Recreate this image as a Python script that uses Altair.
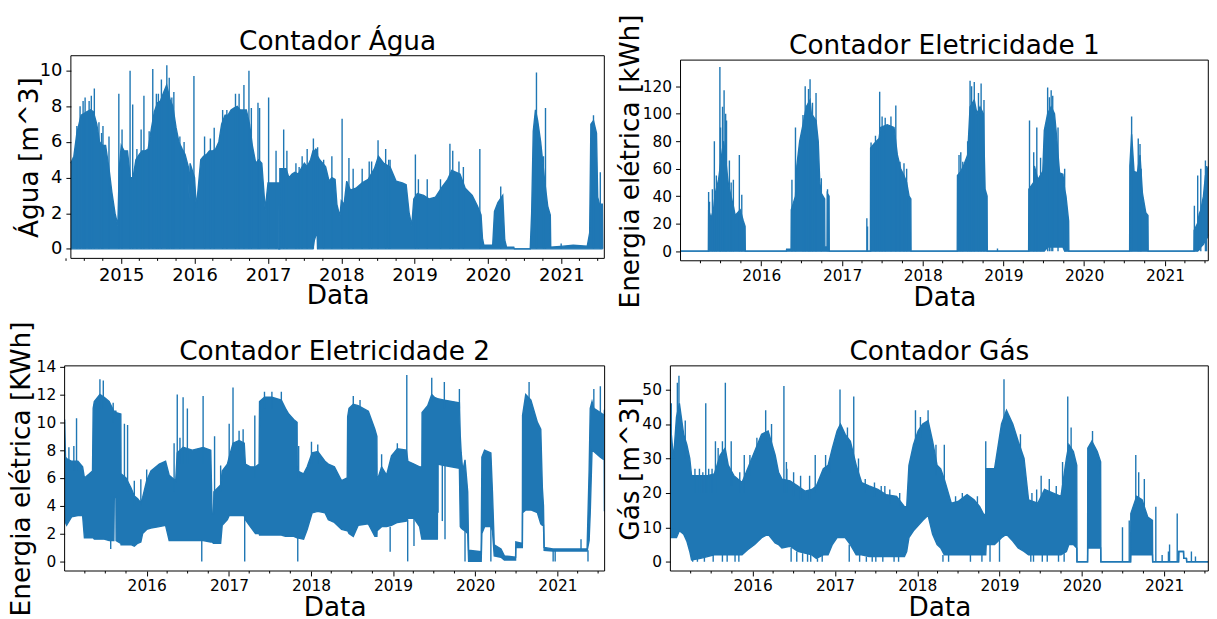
import altair as alt
import pandas as pd

BLUE = "#1f77b4"
FONT = "DejaVu Sans"
BIG = 26.5

# ---------------- Contador Água : (date, low, high) envelope ----------------
AGUA_BODY = [
    ("2014-04-25", 0, 4.8), ("2014-05-10", 0, 5.2), ("2014-05-25", 0, 6.5), ("2014-06-15", 0, 7.5),
    ("2014-07-01", 0, 7.6), ("2014-07-15", 0, 7.7), ("2014-08-01", 0, 7.8), ("2014-08-15", 0, 7.7),
    ("2014-09-01", 0, 7.0), ("2014-09-15", 0, 6.0), ("2014-10-01", 0, 5.8), ("2014-10-15", 0, 5.8),
    ("2014-11-01", 0, 4.5), ("2014-11-15", 0, 3.2), ("2014-12-01", 0, 2.0), ("2014-12-15", 0, 1.3),
    ("2014-12-22", 0, 4.5), ("2015-01-01", 0, 5.8), ("2015-01-15", 0, 5.5), ("2015-02-01", 0, 5.5),
    ("2015-02-15", 0, 4.0), ("2015-03-01", 0, 4.0), ("2015-03-15", 0, 5.0), ("2015-04-01", 0, 5.3),
    ("2015-04-15", 0, 5.5), ("2015-05-01", 0, 5.5), ("2015-05-15", 0, 5.6), ("2015-06-01", 0, 6.8),
    ("2015-06-15", 0, 7.7), ("2015-07-01", 0, 8.2), ("2015-07-15", 0, 8.3), ("2015-08-01", 0, 8.8),
    ("2015-08-15", 0, 9.2), ("2015-09-01", 0, 8.4), ("2015-09-15", 0, 8.0), ("2015-10-01", 0, 6.8),
    ("2015-10-15", 0, 6.0), ("2015-11-01", 0, 5.6), ("2015-11-15", 0, 5.3), ("2015-12-01", 0, 4.6),
    ("2015-12-05", 0, 2.8), ("2015-12-10", 0, 4.8), ("2016-01-01", 0, 4.0), ("2016-01-10", 0, 2.3),
    ("2016-01-20", 0, 3.5), ("2016-02-01", 0, 5.0), ("2016-02-15", 0, 5.2), ("2016-03-01", 0, 5.3),
    ("2016-03-15", 0, 5.5), ("2016-04-01", 0, 5.5), ("2016-04-15", 0, 5.6), ("2016-05-01", 0, 6.0),
    ("2016-05-15", 0, 7.0), ("2016-06-01", 0, 7.5), ("2016-06-15", 0, 7.5), ("2016-07-01", 0, 7.8),
    ("2016-07-15", 0, 7.9), ("2016-08-01", 0, 8.0), ("2016-08-15", 0, 7.8), ("2016-09-01", 0, 7.8),
    ("2016-09-15", 0, 7.8), ("2016-10-01", 0, 7.0), ("2016-10-15", 0, 5.8), ("2016-11-01", 0, 4.8),
    ("2016-11-15", 0, 5.0), ("2016-12-01", 0, 4.8), ("2016-12-18", 0, 2.2), ("2017-01-01", 0, 3.7),
    ("2017-02-23", 0, 3.7), ("2017-02-24", 0, 0), ("2017-02-28", 0, 0), ("2017-03-01", 0, 4.5),
    ("2017-04-01", 0, 4.5), ("2017-04-15", 0, 4.0), ("2017-05-01", 0, 4.2), ("2017-05-15", 0, 4.3),
    ("2017-06-01", 0, 4.2), ("2017-06-15", 0, 4.5), ("2017-07-01", 0, 4.8), ("2017-07-15", 0, 4.6),
    ("2017-08-01", 0, 5.0), ("2017-08-13", 0, 5.5), ("2017-08-20", 0.5, 5.5), ("2017-08-27", 0.75, 5.6),
    ("2017-09-03", 0.8, 5.5), ("2017-09-05", 0, 5.2), ("2017-09-15", 0, 5.0), ("2017-10-01", 0, 4.8),
    ("2017-10-15", 0, 4.6), ("2017-11-01", 0, 3.8), ("2017-11-15", 0, 4.0), ("2017-12-01", 0, 3.9),
    ("2017-12-10", 0, 2.5), ("2017-12-25", 0, 1.8), ("2018-01-01", 0, 2.7), ("2018-01-15", 0, 2.5),
    ("2018-01-28", 0, 3.8), ("2018-02-15", 0, 3.3), ("2018-03-15", 0, 3.4), ("2018-04-15", 0, 3.7),
    ("2018-05-15", 0, 3.9), ("2018-06-15", 0, 4.5), ("2018-07-05", 0, 5.2), ("2018-08-01", 0, 4.8),
    ("2018-09-01", 0, 4.6), ("2018-10-01", 0, 3.8), ("2018-11-01", 0, 3.7), ("2018-11-20", 0, 3.6),
    ("2018-12-05", 0, 2.0), ("2018-12-18", 0, 1.3), ("2018-12-28", 0, 2.8), ("2019-01-15", 0, 3.1),
    ("2019-02-15", 0, 3.0), ("2019-03-15", 0, 2.8), ("2019-04-15", 0, 2.9), ("2019-05-20", 0, 3.5),
    ("2019-06-15", 0, 3.9), ("2019-07-05", 0, 4.4), ("2019-08-15", 0, 4.2), ("2019-09-10", 0, 3.4),
    ("2019-10-15", 0, 3.0), ("2019-11-10", 0, 2.4), ("2019-11-28", 0, 1.9), ("2019-12-05", 0, 0.6),
    ("2019-12-12", 0, 0.2), ("2020-01-25", 0, 0.2), ("2020-02-03", 0, 2.1), ("2020-02-20", 0, 2.6),
    ("2020-03-15", 0, 3.0), ("2020-03-25", 0, 0.5), ("2020-04-03", 0, 0.1), ("2020-05-09", 0, 0.1),
    ("2020-05-12", 0, 0), ("2020-07-30", 0, 0), ("2020-08-06", 0, 2.0), ("2020-08-14", 0, 6.6),
    ("2020-08-25", 0, 7.8), ("2020-09-05", 0, 7.2), ("2020-09-20", 0, 6.0), ("2020-10-10", 0, 3.8),
    ("2020-10-25", 0, 2.4), ("2020-11-07", 0, 1.9), ("2020-11-09", 0, 0.1), ("2021-01-10", 0, 0.15),
    ("2021-03-01", 0, 0.2), ("2021-05-10", 0, 0.15), ("2021-05-22", 0, 0.9), ("2021-05-28", 0, 7.0),
    ("2021-06-10", 0, 7.2), ("2021-06-25", 0, 6.5), ("2021-07-01", 0, 2.9), ("2021-07-10", 0, 2.5),
    ("2021-07-24", 0, 2.5), ("2021-07-26", 0, 0),
]
# single peaks / dips: (date, from, to)
AGUA_RULES = [
    ("2014-05-25", 0, 6.9), ("2014-06-10", 0, 8.0), ("2014-07-05", 0, 8.5), ("2014-07-25", 0, 8.3),
    ("2014-08-05", 0, 8.6), ("2014-08-20", 0, 9.0), ("2014-09-12", 0, 7.1), ("2014-10-02", 0, 6.9),
    ("2014-11-01", 0, 6.3), ("2014-12-20", 0, 8.7), ("2015-01-05", 0, 6.7), ("2015-02-14", 0, 10.0),
    ("2015-02-27", 0, 8.1), ("2015-04-10", 0, 6.7), ("2015-04-24", 0, 8.6), ("2015-06-07", 0, 10.1),
    ("2015-06-25", 0, 8.7), ("2015-07-20", 0, 9.5), ("2015-08-16", 0, 10.3), ("2015-08-28", 0, 9.6),
    ("2015-09-10", 0, 8.5), ("2015-10-20", 0, 6.3), ("2015-12-29", 0, 9.7), ("2016-02-20", 0, 6.3),
    ("2016-03-20", 0, 6.2), ("2016-04-08", 0, 6.8), ("2016-05-20", 0, 7.8), ("2016-07-23", 0, 8.7),
    ("2016-09-03", 0, 9.2), ("2016-09-28", 0, 10.0), ("2016-11-12", 0, 8.2), ("2016-11-20", 0, 7.9),
    ("2017-01-04", 0, 8.5), ("2017-02-10", 0, 5.5), ("2017-03-20", 0, 6.7), ("2017-04-05", 0, 5.5),
    ("2017-05-20", 0, 4.8), ("2017-06-20", 0, 5.2), ("2017-07-15", 0, 5.6), ("2017-08-15", 0, 6.2),
    ("2017-09-05", 0, 5.7), ("2017-11-15", 0, 5.2), ("2018-01-05", 0, 7.3), ("2018-02-08", 0, 5.1),
    ("2018-03-01", 0, 4.5), ("2018-04-15", 0, 4.5), ("2018-05-20", 0, 4.9), ("2018-07-03", 0, 6.1),
    ("2018-08-10", 0, 5.6), ("2018-09-01", 0, 5.0), ("2019-01-05", 0, 5.3), ("2019-01-20", 0, 3.9),
    ("2019-03-05", 0, 3.9), ("2019-06-26", 0, 5.9), ("2019-07-10", 0, 5.5), ("2019-08-10", 0, 4.9),
    ("2019-11-22", 0, 5.6), ("2020-03-05", 0, 3.5), ("2020-08-30", 0, 9.9), ("2020-10-04", 0, 5.2),
    ("2020-10-14", 0, 7.9), ("2020-12-31", 0, 0.3), ("2021-06-10", 0, 7.5), ("2021-07-14", 0, 4.3),
    ("2014-06-25", 0, 8.3), ("2014-09-25", 0, 6.5), ("2015-03-20", 0, 5.6), ("2015-05-20", 0, 6.6),
    ("2015-07-05", 0, 8.7), ("2015-09-20", 0, 8.8), ("2015-11-10", 0, 6.0), ("2016-06-10", 0, 7.8),
    ("2016-08-10", 0, 8.7), ("2016-10-10", 0, 7.9), ("2017-06-05", 0, 4.6), ("2017-10-05", 0, 5.0),
    ("2018-06-01", 0, 4.9), ("2018-08-25", 0, 5.0), ("2019-05-10", 0, 3.9), ("2019-09-01", 0, 4.6),
]

# ---------------- Contador Eletricidade 1 ----------------
EL1_BODY = [
    ("2015-01-01", 0, 0), ("2015-05-07", 0, 0), ("2015-05-08", 0, 30), ("2015-05-19", 0, 24),
    ("2015-05-30", 0, 30), ("2015-06-07", 0, 42), ("2015-06-22", 0, 52), ("2015-07-06", 0, 70),
    ("2015-07-15", 0, 80), ("2015-07-21", 0, 72), ("2015-08-01", 0, 55), ("2015-08-06", 0, 48),
    ("2015-08-29", 0, 32), ("2015-09-05", 0, 26), ("2015-09-28", 0, 30), ("2015-10-12", 0, 22),
    ("2015-10-20", 0, 18), ("2015-10-21", 0, 0), ("2016-04-24", 0, 0), ("2016-04-25", 0, 1.5),
    ("2016-05-15", 0, 1.5), ("2016-05-16", 0, 30), ("2016-06-04", 0, 40), ("2016-06-10", 0, 62),
    ("2016-06-23", 0, 80), ("2016-07-08", 0, 92), ("2016-07-23", 0, 105), ("2016-08-09", 0, 110),
    ("2016-08-15", 0, 100), ("2016-09-05", 0, 95), ("2016-09-15", 0, 80), ("2016-09-22", 0, 50),
    ("2016-09-29", 0, 42), ("2016-10-14", 0, 38), ("2016-10-15", 0, 3), ("2016-10-25", 0, 3),
    ("2016-10-26", 0, 42), ("2016-11-03", 0, 40), ("2016-11-04", 0, 0), ("2017-05-09", 0, 0),
    ("2017-05-10", 0, 75), ("2017-05-25", 0, 78), ("2017-06-17", 0, 82), ("2017-06-24", 0, 90),
    ("2017-07-24", 0, 92), ("2017-08-24", 0, 90), ("2017-09-08", 0, 70), ("2017-09-23", 0, 60),
    ("2017-10-08", 0, 55), ("2017-10-20", 0, 50), ("2017-10-31", 0, 40), ("2017-11-08", 0, 38),
    ("2017-11-09", 0, 0), ("2018-06-06", 0, 0), ("2018-06-07", 0, 55), ("2018-06-22", 0, 58),
    ("2018-07-04", 0, 62), ("2018-07-23", 0, 70), ("2018-08-03", 0, 105), ("2018-08-22", 0, 110),
    ("2018-09-03", 0, 100), ("2018-09-17", 0, 105), ("2018-10-02", 0, 100), ("2018-10-10", 0, 45),
    ("2018-10-19", 0, 40), ("2018-10-20", 0, 0), ("2019-04-25", 0, 0), ("2019-04-26", 0, 45),
    ("2019-05-18", 0, 50), ("2019-05-21", 0, 62), ("2019-06-06", 0, 52), ("2019-06-28", 0, 58),
    ("2019-07-05", 0, 88), ("2019-07-20", 3, 100), ("2019-08-05", 3, 105), ("2019-08-20", 3, 100),
    ("2019-08-27", 3, 88), ("2019-09-12", 3, 57), ("2019-09-27", 3, 56), ("2019-10-05", 0, 45),
    ("2019-10-11", 0, 40), ("2019-10-23", 0, 22), ("2019-10-24", 0, 0), ("2020-07-25", 0, 0),
    ("2020-07-26", 0, 62), ("2020-08-03", 0, 85), ("2020-08-14", 0, 58), ("2020-08-29", 0, 57),
    ("2020-09-10", 0, 70), ("2020-09-21", 0, 42), ("2020-10-06", 0, 28), ("2020-10-16", 0, 26),
    ("2020-10-17", 0, 0), ("2021-05-12", 0, 0), ("2021-05-13", 0, 15), ("2021-05-28", 0, 20),
    ("2021-06-05", 1, 27), ("2021-06-12", 3, 30), ("2021-06-24", 5, 40), ("2021-07-03", 8, 55),
    ("2021-07-12", 10, 60), ("2021-07-18", 12, 62),
]
EL1_RULES = [
    ("2015-05-08", 0, 43), ("2015-05-12", 0, 36), ("2015-05-25", 0, 45), ("2015-06-03", 0, 80),
    ("2015-06-12", 0, 55), ("2015-06-28", 0, 134), ("2015-07-17", 0, 117), ("2015-07-24", 0, 100),
    ("2015-08-10", 0, 66), ("2015-08-28", 0, 52), ("2015-09-24", 0, 70), ("2015-10-05", 0, 41),
    ("2015-07-01", 0, 90), ("2015-07-10", 0, 105), ("2015-07-28", 0, 95), ("2015-08-18", 0, 50),
    ("2016-05-19", 0, 52), ("2016-06-04", 0, 90), ("2016-07-08", 0, 99), ("2016-07-18", 0, 120),
    ("2016-08-02", 0, 118), ("2016-08-09", 0, 125), ("2016-08-20", 0, 108), ("2016-09-05", 0, 115),
    ("2016-09-29", 0, 53), ("2016-10-27", 0, 45), ("2017-04-23", 0, 24), ("2017-04-26", 0, 18),
    ("2017-05-12", 0, 79), ("2017-06-01", 0, 84), ("2017-06-20", 0, 116), ("2017-07-01", 0, 98),
    ("2017-07-15", 0, 97), ("2017-08-10", 0, 98), ("2017-09-01", 0, 106), ("2017-09-20", 0, 65),
    ("2017-10-08", 0, 64), ("2017-10-20", 0, 60), ("2018-06-14", 0, 70), ("2018-06-22", 0, 72),
    ("2018-07-01", 0, 65), ("2018-07-23", 0, 80), ("2018-08-03", 0, 124), ("2018-08-10", 0, 120),
    ("2018-08-22", 0, 123), ("2018-09-10", 0, 115), ("2018-09-22", 0, 122), ("2018-10-05", 0, 110),
    ("2018-12-05", 0, 2), ("2019-04-29", 0, 95), ("2019-05-18", 0, 72), ("2019-06-01", 0, 90),
    ("2019-06-18", 0, 68), ("2019-07-20", 0, 119), ("2019-07-28", 0, 112), ("2019-08-05", 0, 117),
    ("2019-08-12", 0, 113), ("2019-09-05", 0, 90), ("2019-10-05", 0, 60), ("2020-08-03", 0, 98),
    ("2020-09-02", 0, 82), ("2020-09-10", 0, 78), ("2020-09-15", 0, 60), ("2021-05-14", 0, 33),
    ("2021-05-29", 0, 55), ("2021-06-12", 0, 60), ("2021-07-03", 0, 66), ("2021-07-08", 0, 62),
]

# ---------------- Contador Eletricidade 2 ----------------
EL2_BODY = [
    ("2015-01-01", 3.0, 10.2), ("2015-01-05", 2.8, 7.5), ("2015-01-10", 2.6, 7.4), ("2015-02-01", 3.2, 7.2),
    ("2015-03-01", 3.3, 7.2), ("2015-03-22", 3.3, 6.8), ("2015-03-30", 1.7, 6.0), ("2015-04-21", 1.7, 6.3),
    ("2015-05-05", 1.7, 6.5), ("2015-05-08", 1.7, 11.0), ("2015-05-13", 1.6, 11.5), ("2015-06-07", 1.6, 12.0),
    ("2015-06-26", 1.6, 11.8), ("2015-07-18", 1.5, 11.5), ("2015-08-08", 1.5, 10.8), ("2015-08-10", 4.6, 10.8),
    ("2015-08-17", 4.6, 10.8), ("2015-08-18", 1.5, 10.7), ("2015-09-08", 1.3, 10.6), ("2015-09-09", 1.2, 6.3),
    ("2015-10-01", 1.2, 6.0), ("2015-10-23", 1.2, 5.3), ("2015-11-07", 1.1, 4.7), ("2015-11-22", 1.3, 4.5),
    ("2015-12-06", 1.4, 4.2), ("2015-12-14", 2.0, 4.6), ("2016-01-01", 2.3, 5.8), ("2016-01-20", 2.4, 6.5),
    ("2016-02-26", 2.5, 7.0), ("2016-03-25", 2.6, 7.2), ("2016-04-10", 1.5, 6.2), ("2016-05-09", 1.5, 5.8),
    ("2016-05-16", 1.5, 7.8), ("2016-06-11", 1.5, 8.2), ("2016-07-22", 1.5, 8.0), ("2016-09-08", 1.5, 8.2),
    ("2016-10-12", 1.4, 8.0), ("2016-10-18", 1.4, 3.4), ("2016-10-24", 1.3, 3.4), ("2016-10-26", 1.3, 5.0),
    ("2016-11-25", 1.3, 5.5), ("2016-12-02", 2.6, 6.5), ("2016-12-25", 3.0, 7.0), ("2017-01-02", 3.3, 7.5),
    ("2017-01-19", 3.3, 8.5), ("2017-02-15", 3.3, 8.7), ("2017-03-10", 3.3, 8.5), ("2017-03-15", 3.0, 7.0),
    ("2017-04-06", 2.5, 6.8), ("2017-04-29", 2.0, 6.8), ("2017-05-15", 2.0, 7.0), ("2017-05-17", 1.9, 11.5),
    ("2017-06-08", 1.9, 11.8), ("2017-07-11", 1.9, 11.8), ("2017-08-22", 1.9, 11.6), ("2017-09-09", 1.8, 11.0),
    ("2017-09-24", 1.8, 10.6), ("2017-10-16", 1.8, 10.2), ("2017-10-31", 1.7, 10.0), ("2017-11-01", 1.7, 6.5),
    ("2017-11-29", 1.6, 6.3), ("2017-12-15", 2.3, 6.8), ("2018-01-06", 3.5, 7.8), ("2018-01-31", 3.6, 7.9),
    ("2018-03-04", 3.5, 7.2), ("2018-03-19", 3.0, 7.0), ("2018-04-15", 2.8, 6.8), ("2018-05-17", 2.3, 5.8),
    ("2018-06-11", 2.2, 6.0), ("2018-06-13", 2.2, 10.4), ("2018-06-19", 2.0, 11.0), ("2018-07-08", 1.8, 11.3),
    ("2018-07-30", 2.6, 11.2), ("2018-09-13", 2.7, 10.8), ("2018-10-12", 1.8, 9.5), ("2018-10-21", 1.8, 9.0),
    ("2018-10-22", 2.2, 5.8), ("2018-11-11", 2.5, 6.8), ("2018-12-03", 2.5, 6.2), ("2018-12-25", 2.6, 7.6),
    ("2019-01-20", 2.8, 8.1), ("2019-03-01", 2.9, 8.0), ("2019-03-08", 3.1, 7.2), ("2019-04-04", 3.1, 7.0),
    ("2019-04-29", 2.5, 6.8), ("2019-05-09", 1.6, 6.8), ("2019-05-10", 1.6, 10.7), ("2019-06-04", 1.6, 11.2),
    ("2019-06-22", 1.6, 12.0), ("2019-07-04", 1.6, 11.8), ("2019-07-17", 1.6, 11.7), ("2019-07-18", 7.0, 11.7),
    ("2019-08-17", 6.9, 11.6), ("2019-10-23", 6.7, 11.4), ("2019-10-27", 2.5, 9.0), ("2019-10-31", 2.4, 7.8),
    ("2019-11-07", 2.3, 6.5), ("2019-11-17", 2.2, 7.3), ("2019-11-29", 2.0, 5.0), ("2019-12-03", 0.0, 0.8),
    ("2020-01-28", 0.0, 0.7), ("2020-01-31", 2.0, 7.5), ("2020-02-12", 2.5, 8.0), ("2020-03-11", 2.5, 7.8),
    ("2020-03-18", 2.2, 5.0), ("2020-03-26", 0.4, 1.2), ("2020-04-25", 0.3, 0.9), ("2020-05-10", 0.1, 0.4),
    ("2020-06-29", 0.1, 0.3), ("2020-06-30", 1.0, 1.4), ("2020-07-29", 1.0, 1.3), ("2020-07-30", 3.5, 10.5),
    ("2020-08-13", 3.7, 12.0), ("2020-09-05", 3.7, 11.6), ("2020-10-04", 3.5, 10.0), ("2020-10-19", 2.7, 9.5),
    ("2020-10-26", 2.6, 5.3), ("2020-10-31", 2.6, 4.0), ("2020-11-03", 0.8, 1.0), ("2020-12-12", 0.75, 0.9),
    ("2021-05-13", 0.75, 0.9), ("2021-05-22", 1.5, 6.5), ("2021-05-27", 3.5, 11.0), ("2021-06-04", 8.0, 11.5),
    ("2021-06-12", 7.9, 11.0), ("2021-07-11", 7.5, 10.7), ("2021-07-28", 7.3, 10.5), ("2021-07-29", 3.6, 10.9),
]
EL2_RULES = [
    ("2015-01-20", 6.5, 8.2), ("2015-02-11", 6.5, 8.3), ("2015-02-23", 6.5, 10.3), ("2015-06-07", 11, 13.1),
    ("2015-06-22", 11, 13.0), ("2015-08-05", 10, 11.4), ("2015-09-24", 5.5, 9.9), ("2015-10-08", 5, 9.8),
    ("2015-11-07", 4, 5.8), ("2015-12-06", 4, 5.9), ("2016-01-01", 5, 6.6), ("2016-05-02", 5, 8.5),
    ("2016-05-16", 7, 12.0), ("2016-05-28", 7, 8.9), ("2016-06-11", 7, 11.8), ("2016-06-30", 7, 11.0),
    ("2016-09-08", 7, 11.9), ("2016-10-29", 4.5, 9.0), ("2016-11-25", 5, 6.9), ("2017-01-02", 7, 9.9),
    ("2017-01-19", 8, 12.5), ("2017-02-15", 8, 9.4), ("2017-03-05", 8, 9.5), ("2017-04-26", 6, 10.5),
    ("2017-06-08", 11, 12.2), ("2017-07-11", 11, 12.2), ("2017-08-22", 11, 12.2), ("2017-11-07", 6, 8.3),
    ("2018-01-03", 7, 8.6), ("2018-01-31", 7, 8.4), ("2018-07-08", 11, 11.9), ("2018-08-07", 11, 11.6),
    ("2018-11-11", 6, 7.7), ("2019-01-20", 7.5, 8.5), ("2019-03-03", 7.5, 13.4), ("2019-06-22", 11.5, 13.2),
    ("2019-08-17", 11, 12.9), ("2019-10-23", 11, 12.4), ("2020-08-28", 11.5, 12.9), ("2021-04-16", 0.8, 1.6),
    ("2021-06-12", 11, 12.4), ("2021-07-11", 10.5, 12.6),
    ("2015-07-25", 0.9, 1.6), ("2016-09-02", 0.0, 1.5), ("2017-03-12", 0.0, 3.3), ("2017-11-03", 0.0, 1.7),
    ("2018-12-19", 0.7, 2.5), ("2019-03-07", 0.0, 3.0), ("2019-04-04", 1.1, 3.1), ("2019-07-20", 3.5, 7.0),
    ("2019-08-08", 2.9, 7.0), ("2019-08-20", 1.6, 7.0), ("2019-11-17", 0.0, 2.2), ("2020-03-11", 0.0, 2.5),
    ("2020-12-13", 0.0, 0.8), ("2020-12-22", 0.0, 0.8), ("2021-05-17", 0.0, 0.8),
]

# ---------------- Contador Gás ----------------
GAS_BODY = [
    ("2015-01-01", 7, 40), ("2015-01-15", 7, 30), ("2015-01-28", 7, 42), ("2015-02-10", 9, 46),
    ("2015-03-01", 8, 37), ("2015-03-15", 6, 34), ("2015-03-28", 3, 30), ("2015-04-05", 0.5, 25),
    ("2015-05-15", 1, 25), ("2015-06-15", 1.5, 25), ("2015-07-15", 2, 25.5), ("2015-08-10", 2, 31),
    ("2015-09-01", 2, 33), ("2015-09-15", 2, 28), ("2015-10-10", 2, 25), ("2015-11-15", 2, 23),
    ("2015-12-10", 3.5, 27), ("2016-01-10", 5, 32), ("2016-02-10", 7, 37), ("2016-03-10", 8, 38),
    ("2016-04-10", 5.5, 31), ("2016-04-25", 5, 26), ("2016-05-10", 4, 24), ("2016-06-15", 4.5, 23.5),
    ("2016-07-20", 3, 22), ("2016-08-20", 2.5, 20.5), ("2016-09-20", 2, 21), ("2016-10-10", 1, 22),
    ("2016-11-10", 2, 27), ("2016-12-01", 2, 28), ("2016-12-20", 5, 33), ("2017-01-10", 7, 38),
    ("2017-01-25", 7, 40), ("2017-02-15", 7, 37), ("2017-03-10", 5, 35), ("2017-04-05", 2, 28),
    ("2017-04-29", 2, 23), ("2017-06-01", 1.5, 22), ("2017-07-10", 1.5, 21), ("2017-08-15", 1.5, 19.5),
    ("2017-10-01", 1.5, 19), ("2017-11-05", 1.5, 16), ("2017-11-15", 3, 16), ("2017-11-25", 7, 28),
    ("2017-12-15", 9, 34), ("2018-01-05", 10.5, 38), ("2018-01-25", 12, 40), ("2018-02-18", 13.5, 41),
    ("2018-03-10", 8, 35), ("2018-03-30", 5, 28), ("2018-04-15", 4, 27), ("2018-05-01", 2, 24),
    ("2018-06-01", 2, 17), ("2018-07-01", 2, 17.5), ("2018-08-10", 2, 19.5), ("2018-09-10", 2, 18),
    ("2018-10-05", 2, 16), ("2018-10-25", 2, 13.5), ("2018-11-01", 2, 14), ("2018-11-03", 5, 27),
    ("2018-12-10", 5, 27), ("2019-01-10", 7, 40), ("2019-02-01", 8, 44), ("2019-03-01", 6, 40),
    ("2019-03-25", 4, 35), ("2019-04-20", 3, 30), ("2019-05-10", 2, 18), ("2019-06-20", 2, 17),
    ("2019-07-20", 2, 21), ("2019-08-25", 2, 20), ("2019-10-01", 2, 19), ("2019-10-25", 3, 30),
    ("2019-11-05", 5, 34), ("2019-11-25", 5, 32), ("2019-12-10", 4, 28), ("2019-12-11", 0, 0),
    ("2020-01-27", 0, 0), ("2020-01-28", 4, 33), ("2020-02-15", 4, 35), ("2020-03-10", 4, 32),
    ("2020-03-25", 4, 29), ("2020-03-26", 0, 0), ("2020-08-05", 0, 0), ("2020-08-06", 2, 14),
    ("2020-09-01", 2, 19), ("2020-09-25", 2, 18), ("2020-10-20", 2, 13), ("2020-11-10", 2, 12),
    ("2020-11-11", 0, 0), ("2021-03-06", 0, 0), ("2021-03-07", 3, 3), ("2021-03-28", 3, 3),
    ("2021-03-29", 1, 1), ("2021-04-10", 1, 1), ("2021-04-11", 0, 0), ("2021-07-16", 0, 0),
]
GAS_RULES = [
    ("2015-01-05", 30, 46), ("2015-02-01", 40, 52), ("2015-02-08", 40, 54), ("2015-03-08", 30, 41),
    ("2015-06-07", 20, 46), ("2015-07-20", 20, 35), ("2015-09-02", 28, 52), ("2015-09-28", 22, 35),
    ("2015-11-25", 20, 31), ("2016-02-28", 35, 44), ("2016-05-19", 20, 51), ("2016-05-30", 20, 29),
    ("2016-10-05", 20, 31), ("2017-01-23", 38, 50), ("2017-03-25", 30, 48), ("2017-08-10", 18, 22),
    ("2017-12-24", 34, 44), ("2018-02-18", 38, 44), ("2018-03-25", 25, 34), ("2018-05-01", 22, 34),
    ("2018-11-01", 14, 35), ("2019-01-21", 40, 53), ("2019-04-04", 30, 37), ("2019-07-05", 18, 25),
    ("2019-10-08", 18, 29), ("2019-10-31", 30, 48), ("2019-11-15", 30, 39), ("2020-02-18", 33, 38),
    ("2020-06-30", 0, 10), ("2020-07-30", 0, 12), ("2020-08-28", 18, 31), ("2020-09-10", 18, 26),
    ("2020-10-05", 16, 24), ("2020-11-25", 0, 16), ("2020-12-23", 0, 2), ("2021-01-20", 0, 3),
    ("2021-01-25", 0, 5), ("2021-02-28", 0, 14), ("2021-05-02", 0, 3), ("2021-05-20", 0, 1.5),
    ("2015-04-20", 20, 27), ("2015-05-10", 20, 27), ("2015-05-25", 20, 26), ("2015-06-20", 20, 27),
    ("2015-07-05", 20, 27), ("2015-08-01", 25, 33), ("2015-08-20", 28, 35), ("2015-10-01", 22, 26),
    ("2015-11-05", 20, 26), ("2015-12-20", 25, 31), ("2016-01-20", 30, 36), ("2016-03-25", 33, 40),
    ("2016-06-01", 20, 27), ("2016-07-01", 19, 26), ("2016-08-01", 18, 25), ("2016-09-10", 18, 25),
    ("2016-11-20", 25, 31), ("2016-12-10", 26, 30), ("2017-02-25", 33, 39), ("2017-04-15", 24, 30),
    ("2017-05-15", 20, 24), ("2017-06-25", 19, 23), ("2017-07-25", 18, 22), ("2017-09-01", 17, 21),
    ("2017-10-15", 16, 20), ("2018-01-15", 36, 42), ("2018-06-20", 16, 19), ("2018-07-20", 17, 20),
    ("2018-09-25", 16, 19), ("2019-05-25", 16, 20), ("2019-06-15", 16, 21), ("2019-08-10", 19, 24),
    ("2019-09-10", 18, 22),
    ("2015-04-10", 0, 2), ("2015-05-01", 0, 1), ("2015-06-01", 0, 2), ("2015-07-10", 0, 2),
    ("2015-08-20", 0, 2), ("2015-09-10", 0, 2), ("2015-10-15", 0, 2), ("2015-11-01", 0, 2),
    ("2016-06-20", 0, 4), ("2016-07-15", 0, 3), ("2016-08-10", 0, 2.5), ("2016-09-01", 0, 2.5),
    ("2016-09-15", 0, 2), ("2016-10-15", 0, 1), ("2016-11-05", 0, 2), ("2017-03-05", 0, 5),
    ("2017-04-20", 0, 2), ("2017-05-20", 0, 1.5), ("2017-06-15", 0, 1.5), ("2017-07-01", 0, 1.5),
    ("2017-08-01", 0, 1.5), ("2017-09-20", 0, 1.5), ("2017-10-10", 0, 1.5), ("2018-04-25", 0, 2),
    ("2018-05-20", 0, 2), ("2018-08-25", 0, 2), ("2018-10-15", 0, 2), ("2018-11-20", 0, 5),
    ("2019-01-01", 0, 7), ("2019-05-20", 0, 2), ("2019-06-01", 0, 2), ("2019-07-10", 0, 2),
    ("2019-08-01", 0, 2), ("2019-09-20", 0, 2), ("2019-10-15", 0, 2.5),
]

YEARS_ALL = [2015, 2016, 2017, 2018, 2019, 2020, 2021]
YEARS_LATE = [2016, 2017, 2018, 2019, 2020, 2021]


def dt(s):
    y, m, d = (int(v) for v in s.split("-"))
    return alt.DateTime(year=y, month=m, date=d, utc=True)


def panel(body, rules, title, ytitle, xdom, ydom, yticks, years, width, height, fx0, fy0,
          tick_font, ytitle_x, ytitle_y=None, anchor=None):
    bdf = pd.DataFrame(body, columns=["date", "lo", "hi"])
    rdf = pd.DataFrame(rules, columns=["date", "a", "b"])
    minor = pd.DataFrame({"date": [f"{y}-{m:02d}-01" for y in range(2014, 2022) for m in (4, 7, 10)
                                   if xdom[0] <= f"{y}-{m:02d}-01" <= xdom[1]]})
    xscale = alt.Scale(type="utc", domain=[dt(xdom[0]), dt(xdom[1])])
    yscale = alt.Scale(domain=ydom, nice=False, zero=False)
    xaxis = alt.Axis(title="Data", values=[dt(f"{y}-01-01") for y in years], format="%Y",
                     labelFontSize=tick_font, titleFontSize=BIG, titleY=45,
                     titleX=fx0 + (width - fx0) / 2,
                     titleBaseline="alphabetic", tickSize=5, labelPadding=3)
    yargs = dict(title=ytitle, values=yticks, labelFontSize=tick_font, titleFontSize=BIG,
                 titleX=ytitle_x, titleBaseline="alphabetic", titleAlign="center",
                 tickSize=5, labelPadding=4, offset=-fx0)
    if ytitle_y is not None:
        yargs["titleY"] = ytitle_y
    yaxis = alt.Axis(**yargs)

    def X():
        return alt.X("date:T", scale=xscale, axis=xaxis)

    def Y(f):
        return alt.Y(f, scale=yscale, axis=yaxis)

    area = alt.Chart(bdf).mark_area(color=BLUE, opacity=1, clip=True).encode(
        x=X(), y=Y("lo:Q"), y2="hi:Q")
    top = alt.Chart(bdf).mark_line(color=BLUE, strokeWidth=1.4, clip=True).encode(x=X(), y=Y("hi:Q"))
    bot = alt.Chart(bdf).mark_line(color=BLUE, strokeWidth=1.4, clip=True).encode(x=X(), y=Y("lo:Q"))
    spk = alt.Chart(rdf).mark_rule(color=BLUE, strokeWidth=1.4, clip=True).encode(
        x=X(), y=Y("a:Q"), y2="b:Q")
    mticks = alt.Chart(minor).mark_rule(color="black", strokeWidth=1).encode(
        x=X(), y=alt.value(height), y2=alt.value(height + 2.5))
    frame = alt.Chart(pd.DataFrame({"k": [0]})).mark_rect(
        fillOpacity=0, stroke="black", strokeWidth=1).encode(
        x=alt.value(fx0), x2=alt.value(width), y=alt.value(fy0), y2=alt.value(height))
    ttl = alt.Chart(pd.DataFrame({"t": [title]})).mark_text(
        font=FONT, fontSize=BIG, color="black", align="center", baseline="alphabetic").encode(
        text="t:N", x=alt.value(fx0 + (width - fx0) / 2), y=alt.value(fy0 - 6))
    layers = [area, top, bot, spk, mticks, frame, ttl]
    if anchor is not None:
        layers.append(alt.Chart(pd.DataFrame({"k": [0]})).mark_rect(opacity=0).encode(
            x=alt.value(anchor[0]), x2=alt.value(anchor[0] + 0.5),
            y=alt.value(anchor[1]), y2=alt.value(anchor[1] + 0.5)))
    return alt.layer(*layers).properties(width=width, height=height)


p1 = panel(AGUA_BODY, AGUA_RULES, "Contador Água", "Água [m^3]",
           ("2014-03-25", "2021-08-03"), [-0.535, 10.84], [0, 2, 4, 6, 8, 10],
           YEARS_ALL, 543.3, 204, 6.3, 0, 18, -34, anchor=(-56.7, -45.3))
p2 = panel(EL1_BODY, EL1_RULES, "Contador Eletricidade 1", "Energia elétrica [kWh]",
           ("2014-11-16", "2021-07-16"), [-7.0, 142.2], [0, 20, 40, 60, 80, 100, 120],
           YEARS_LATE, 541.5, 206.4, 10.2, 4.4, 15.5, -42.7, ytitle_y=106)
p3 = panel(EL2_BODY, EL2_RULES, "Contador Eletricidade 2", "Energia elétrica [KWh]",
           ("2015-01-01", "2021-07-30"), [-0.69, 14.06], [0, 2, 4, 6, 8, 10, 12, 14],
           YEARS_LATE, 543.6, 206.5, 0, 0, 15.5, -35)
p4 = panel(GAS_BODY, GAS_RULES, "Contador Gás", "Gás [m^3]",
           ("2015-01-01", "2021-07-16"), [-2.68, 56.88], [0, 10, 20, 30, 40, 50],
           YEARS_LATE, 541.5, 206.5, 0, 0, 15.5, -32.5)

chart = alt.concat(
    p1, p2, p3, p4, columns=2, spacing={"row": 105.2, "column": 65.8},
    bounds="flush", align="none",
).properties(padding=0).configure_view(stroke=None).configure_axis(
    labelFont=FONT, titleFont=FONT, labelColor="black", titleColor="black",
    tickColor="black", titleFontWeight="normal", grid=False, domain=False,
)

chart.save("out.html", embed_options={"renderer": "svg", "actions": False})
